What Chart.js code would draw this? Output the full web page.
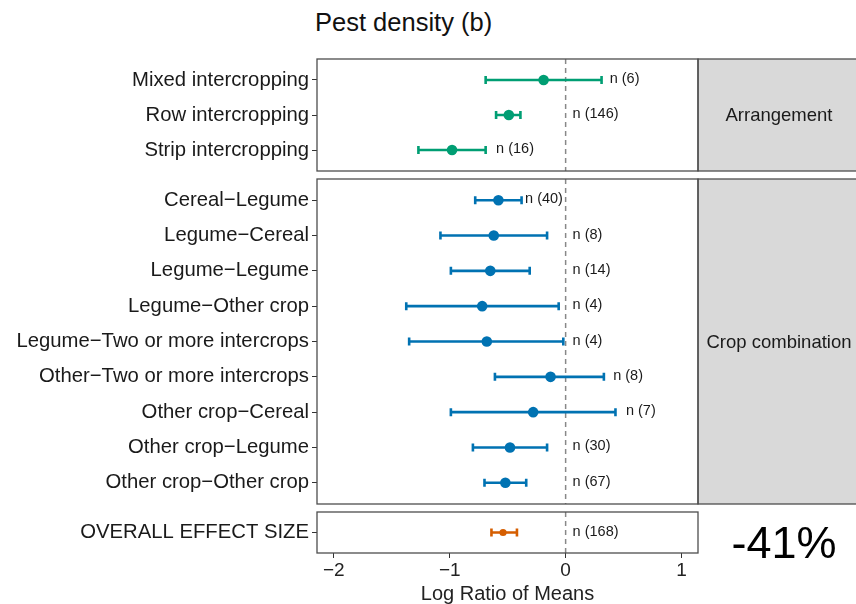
<!DOCTYPE html>
<html>
<head>
<meta charset="utf-8">
<script src="https://cdn.jsdelivr.net/npm/chart.js@4.4.1/dist/chart.umd.min.js"></script>
<style>
  body { margin: 0; background: #fff; }
  #wrap { position: relative; width: 856px; height: 604px; overflow: hidden; background: #fff; }
  canvas { position: absolute; left: 0; }
  #title { position: absolute; left: 315px; top: 10px; font: 25.5px 'Liberation Sans', Arial, sans-serif; line-height: 1; color: #111; white-space: nowrap; }
</style>
</head>
<body>
<div id="wrap">
  <div id="title">Pest density (b)</div>
  <canvas id="panel1" width="856" height="132" style="top:49px;width:856px;height:132px"></canvas>
  <canvas id="panel2" width="856" height="345" style="top:169px;width:856px;height:345px"></canvas>
  <canvas id="panel3" width="856" height="102" style="top:502px;width:856px;height:102px"></canvas>
</div>
<script>
// Arrangement
const arrangementLabels = ['Mixed intercropping', 'Row intercropping', 'Strip intercropping'];
const arrangementMean = [-0.19, -0.49, -0.98];
const arrangementLow = [-0.69, -0.60, -1.27];
const arrangementHigh = [0.31, -0.39, -0.69];
const arrangementN = [6, 146, 16];
const arrangementNAt = [0.38, 0.06, -0.60];

// Crop combination
const comboLabels = [
  'Cereal\u2212Legume',
  'Legume\u2212Cereal',
  'Legume\u2212Legume',
  'Legume\u2212Other crop',
  'Legume\u2212Two or more intercrops',
  'Other\u2212Two or more intercrops',
  'Other crop\u2212Cereal',
  'Other crop\u2212Legume',
  'Other crop\u2212Other crop',
];
const comboMean = [-0.58, -0.62, -0.65, -0.72, -0.68, -0.13, -0.28, -0.48, -0.52];
const comboLow = [-0.78, -1.08, -0.99, -1.375, -1.35, -0.61, -0.99, -0.80, -0.70];
const comboHigh = [-0.38, -0.16, -0.31, -0.06, -0.02, 0.33, 0.43, -0.16, -0.34];
const comboN = [40, 8, 14, 4, 4, 8, 7, 30, 67];
const comboNAt = [-0.35, 0.06, 0.06, 0.06, 0.06, 0.41, 0.52, 0.06, 0.06];

// Overall
const overallLabels = ['OVERALL EFFECT SIZE'];
const overallMean = [-0.54];
const overallLow = [-0.64];
const overallHigh = [-0.42];
const overallN = [168];
const overallNAt = [0.06];
const overallPercent = '-41%';

const xTicks = [-2, -1, 0, 1];
const xMin = -2.145, xMax = 1.142;

const FONT = "'Liberation Sans', Arial, sans-serif";

// draws zero line, error bars, n labels, border and strip
const forestPlugin = {
  id: 'forest',
  beforeDatasetsDraw(chart) {
    const o = chart.options.plugins.forest;
    const ctx = chart.ctx, a = chart.chartArea;
    const xs = chart.scales.x, ys = chart.scales.y;
    ctx.save();
    // zero line
    ctx.strokeStyle = '#888';
    ctx.lineWidth = 1.5;
    ctx.setLineDash([5, 4]);
    ctx.beginPath();
    ctx.moveTo(xs.getPixelForValue(0), a.top);
    ctx.lineTo(xs.getPixelForValue(0), a.bottom);
    ctx.stroke();
    ctx.setLineDash([]);
    // error bars
    ctx.strokeStyle = o.color;
    ctx.lineWidth = 2.6;
    o.low.forEach(function(lo, i) {
      const y = ys.getPixelForValue(i);
      const x1 = xs.getPixelForValue(lo), x2 = xs.getPixelForValue(o.high[i]);
      ctx.beginPath();
      ctx.moveTo(x1, y); ctx.lineTo(x2, y);
      ctx.moveTo(x1, y - 4); ctx.lineTo(x1, y + 4);
      ctx.moveTo(x2, y - 4); ctx.lineTo(x2, y + 4);
      ctx.stroke();
    });
    ctx.restore();
  },
  afterDraw(chart) {
    const o = chart.options.plugins.forest;
    const ctx = chart.ctx, a = chart.chartArea;
    const xs = chart.scales.x, ys = chart.scales.y;
    ctx.save();
    // n labels
    ctx.fillStyle = '#1a1a1a';
    ctx.font = '14.5px ' + FONT;
    ctx.textAlign = 'left';
    ctx.textBaseline = 'middle';
    o.n.forEach(function(n, i) {
      ctx.fillText('n (' + n + ')', xs.getPixelForValue(o.nAt[i]), ys.getPixelForValue(i) - 1);
    });
    // strip
    if (o.strip) {
      ctx.fillStyle = '#d9d9d9';
      ctx.fillRect(a.right, a.top, 162, a.bottom - a.top);
      ctx.strokeStyle = '#4d4d4d';
      ctx.lineWidth = 1.3;
      ctx.strokeRect(a.right, a.top, 162, a.bottom - a.top);
      ctx.fillStyle = '#1a1a1a';
      ctx.font = '18.5px ' + FONT;
      ctx.textAlign = 'center';
      ctx.fillText(o.strip, a.right + 81, (a.top + a.bottom) / 2 + 1);
    }
    if (o.percent) {
      ctx.fillStyle = '#000';
      ctx.font = '45px ' + FONT;
      ctx.textAlign = 'center';
      ctx.textBaseline = 'alphabetic';
      ctx.fillText(o.percent, a.right + 86, (a.top + a.bottom) / 2 + 25);
    }
    // panel border
    ctx.strokeStyle = '#4d4d4d';
    ctx.lineWidth = 1.3;
    ctx.strokeRect(a.left, a.top, a.right - a.left, a.bottom - a.top);
    ctx.restore();
  }
};

function makePanel(id, labels, mean, low, high, n, nAt, color, radius, strip, percent, showX) {
  const points = mean.map(function(m, i) { return {x: m, y: i}; });
  return new Chart(document.getElementById(id), {
    type: 'scatter',
    data: {
      datasets: [{
        data: points,
        backgroundColor: color,
        borderColor: color,
        pointRadius: radius,
        pointHoverRadius: radius,
        borderWidth: 0,
      }]
    },
    options: {
      responsive: false,
      maintainAspectRatio: false,
      animation: false,
      events: [],
      layout: { autoPadding: false, padding: { top: 10, bottom: showX ? 0 : 10, left: 0, right: 158 } },
      scales: {
        x: {
          type: 'linear',
          display: showX,
          min: xMin,
          max: xMax,
          afterBuildTicks: function(scale) { scale.ticks = xTicks.map(function(v) { return {value: v}; }); },
          afterFit: function(scale) {
            scale.height = showX ? 51 : 0;
            scale.paddingLeft = 0; scale.paddingRight = 0;
          },
          grid: { drawOnChartArea: false, drawTicks: true, tickLength: 5, color: '#333', lineWidth: 1 },
          border: { display: false },
          ticks: {
            padding: 1,
            color: '#222',
            font: { family: FONT, size: 19 },
            callback: function(v) { return v < 0 ? '\u2212' + Math.abs(v) : String(v); }
          },
          title: {
            display: true,
            text: 'Log Ratio of Means',
            color: '#222',
            font: { family: FONT, size: 20, lineHeight: 1 },
            padding: { top: 2, bottom: 0 }
          }
        },
        y: {
          type: 'linear',
          reverse: true,
          min: -0.6,
          max: labels.length - 0.4,
          afterBuildTicks: function(scale) { scale.ticks = labels.map(function(l, i) { return {value: i}; }); },
          afterFit: function(scale) {
            scale.width = 317;
            scale.paddingTop = 0; scale.paddingBottom = 0;
          },
          grid: { drawOnChartArea: false, drawTicks: true, tickLength: 5, color: '#333', lineWidth: 1 },
          border: { display: false },
          ticks: {
            autoSkip: false,
            padding: 3,
            color: '#1a1a1a',
            font: { family: FONT, size: 20.3 },
            callback: function(v) { return labels[v]; }
          }
        }
      },
      plugins: {
        legend: { display: false },
        tooltip: { enabled: false },
        forest: { color: color, low: low, high: high, n: n, nAt: nAt, strip: strip, percent: percent }
      }
    },
    plugins: [forestPlugin]
  });
}

makePanel('panel1', arrangementLabels, arrangementMean, arrangementLow, arrangementHigh,
  arrangementN, arrangementNAt, '#009E73', 5.3, 'Arrangement', null, false);
makePanel('panel2', comboLabels, comboMean, comboLow, comboHigh,
  comboN, comboNAt, '#0072B2', 5.3, 'Crop combination', null, false);
makePanel('panel3', overallLabels, overallMean, overallLow, overallHigh,
  overallN, overallNAt, '#D55E00', 3.6, null, overallPercent, true);
</script>
</body>
</html>
